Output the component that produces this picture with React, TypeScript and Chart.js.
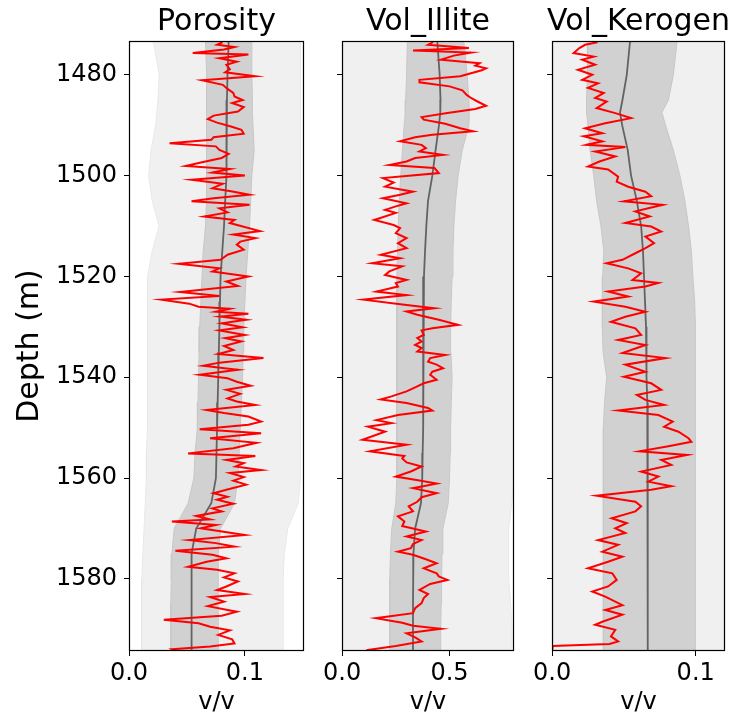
import React, { useEffect, useRef } from 'react';
import { Chart, registerables } from 'chart.js';

Chart.register(...registerables);

// ---------- data ----------
const TITLES = ['Porosity', 'Vol_Illite', 'Vol_Kerogen'];
const Y_TITLE = 'Depth (m)';
const X_TITLE = 'v/v';
const DEPTH_MIN = 1473.3;
const DEPTH_MAX = 1594.3;
const DEPTH_TICKS = [1480, 1500, 1520, 1540, 1560, 1580];
const POROSITY_TICKS = [0, 0.1];
const ILLITE_TICKS = [0, 0.5];
const KEROGEN_TICKS = [0, 0.1];
const X_MAX = [0.151, 0.8, 0.1204];

// uncertainty band knots (depth)
const BAND_DEPTH = [1473.3, 1480, 1485, 1487.5, 1490, 1495, 1500, 1505, 1510, 1515, 1520, 1525, 1530, 1535, 1540, 1545, 1550, 1555, 1560, 1565, 1570, 1575, 1580, 1585, 1590, 1594.3];

const POR_OUTER_LO = [0.021, 0.026, 0.025, 0.024, 0.023, 0.019, 0.017, 0.02, 0.026, 0.02, 0.016, 0.016, 0.016, 0.016, 0.016, 0.016, 0.016, 0.015, 0.015, 0.014, 0.013, 0.012, 0.011, 0.011, 0.011, 0.011];
const POR_OUTER_HI = [0.148, 0.148, 0.148, 0.148, 0.148, 0.148, 0.148, 0.148, 0.148, 0.148, 0.148, 0.148, 0.148, 0.148, 0.148, 0.148, 0.148, 0.148, 0.148, 0.146, 0.137, 0.134, 0.133, 0.133, 0.133, 0.133];
const POR_INNER_LO = [0.066, 0.067, 0.067, 0.067, 0.067, 0.067, 0.067, 0.0665, 0.066, 0.064, 0.063, 0.062, 0.061, 0.0605, 0.06, 0.0595, 0.059, 0.057, 0.056, 0.051, 0.039, 0.037, 0.0365, 0.036, 0.036, 0.036];
const POR_INNER_HI = [0.106, 0.106, 0.1065, 0.1065, 0.107, 0.108, 0.106, 0.105, 0.104, 0.1025, 0.101, 0.1, 0.099, 0.0985, 0.098, 0.097, 0.096, 0.095, 0.094, 0.091, 0.079, 0.077, 0.077, 0.077, 0.077, 0.077];
const POR_MEDIAN = [0.086, 0.085, 0.0845, 0.0845, 0.084, 0.084, 0.084, 0.083, 0.082, 0.0805, 0.079, 0.0785, 0.078, 0.0775, 0.077, 0.0765, 0.076, 0.0755, 0.075, 0.071, 0.058, 0.054, 0.054, 0.054, 0.054, 0.054];

const ILL_OUTER_LO = [0.003, 0.003, 0.003, 0.003, 0.003, 0.003, 0.003, 0.003, 0.003, 0.003, 0.003, 0.003, 0.003, 0.003, 0.003, 0.003, 0.003, 0.003, 0.003, 0.003, 0.003, 0.003, 0.003, 0.003, 0.003, 0.003];
const ILL_OUTER_HI = [0.8, 0.8, 0.8, 0.8, 0.8, 0.8, 0.8, 0.8, 0.8, 0.8, 0.8, 0.8, 0.8, 0.8, 0.8, 0.8, 0.8, 0.8, 0.8, 0.79, 0.775, 0.775, 0.775, 0.785, 0.79, 0.79];
const ILL_INNER_LO = [0.304, 0.3, 0.296, 0.294, 0.289, 0.281, 0.273, 0.266, 0.261, 0.258, 0.255, 0.255, 0.255, 0.255, 0.255, 0.255, 0.255, 0.255, 0.253, 0.25, 0.231, 0.225, 0.222, 0.222, 0.222, 0.222];
const ILL_INNER_HI = [0.566, 0.582, 0.59, 0.592, 0.59, 0.559, 0.54, 0.528, 0.52, 0.516, 0.512, 0.508, 0.505, 0.506, 0.512, 0.508, 0.505, 0.503, 0.5, 0.494, 0.469, 0.465, 0.463, 0.461, 0.459, 0.458];
const ILL_MEDIAN = [0.443, 0.454, 0.458, 0.457, 0.451, 0.435, 0.42, 0.4, 0.392, 0.386, 0.381, 0.379, 0.377, 0.377, 0.377, 0.377, 0.377, 0.375, 0.373, 0.367, 0.34, 0.332, 0.331, 0.33, 0.33, 0.33];

const KER_OUTER_LO = [0.001, 0.001, 0.001, 0.001, 0.001, 0.001, 0.001, 0.001, 0.001, 0.001, 0.001, 0.001, 0.001, 0.001, 0.001, 0.001, 0.001, 0.001, 0.001, 0.001, 0.001, 0.001, 0.001, 0.001, 0.001, 0.001];
const KER_OUTER_HI = [0.1204, 0.1204, 0.1204, 0.1204, 0.1204, 0.1204, 0.1204, 0.1204, 0.1204, 0.1204, 0.1204, 0.1204, 0.1204, 0.1204, 0.1204, 0.1204, 0.1204, 0.1204, 0.1204, 0.1204, 0.1204, 0.1204, 0.1204, 0.1204, 0.1204, 0.1204];
const KER_INNER_LO = [0.025, 0.0246, 0.024, 0.024, 0.025, 0.0265, 0.029, 0.031, 0.034, 0.036, 0.0352, 0.035, 0.035, 0.0355, 0.038, 0.0365, 0.0357, 0.0357, 0.0357, 0.0357, 0.0357, 0.0357, 0.0357, 0.0357, 0.0357, 0.0357];
const KER_INNER_HI = [0.087, 0.0845, 0.081, 0.0765, 0.079, 0.0845, 0.089, 0.0925, 0.095, 0.097, 0.098, 0.0993, 0.0998, 0.0998, 0.0998, 0.0998, 0.0998, 0.0998, 0.0998, 0.0998, 0.0998, 0.0998, 0.0998, 0.0998, 0.0998, 0.0998];
const KER_MEDIAN = [0.0543, 0.052, 0.049, 0.0473, 0.0488, 0.0527, 0.055, 0.059, 0.062, 0.0633, 0.064, 0.0647, 0.0654, 0.0656, 0.0659, 0.0663, 0.0667, 0.0666, 0.0666, 0.0666, 0.0666, 0.0666, 0.0666, 0.0666, 0.0666, 0.0666];

// measured logs
const POROSITY_DEPTH = [1473.3, 1473.6, 1474.05, 1474.5, 1475.0, 1475.7, 1476.0, 1476.7, 1477.4, 1478.0, 1478.9, 1479.5, 1480.3, 1481.1, 1482.0, 1482.8, 1483.6, 1484.3, 1485.0, 1485.6, 1486.4, 1487.3, 1488.1, 1488.8, 1489.5, 1490.25, 1490.9, 1491.7, 1492.4, 1492.9, 1493.6, 1494.2, 1494.9, 1495.7, 1496.5, 1497.4, 1498.1, 1498.7, 1499.4, 1500.0, 1500.8, 1501.6, 1502.5, 1503.1, 1503.8, 1504.5, 1505.1, 1505.8, 1506.5, 1507.3, 1508.1, 1508.8, 1509.4, 1511.0, 1511.7, 1512.4, 1513.1, 1513.7, 1514.7, 1515.7, 1516.7, 1517.5, 1518.4, 1519.0, 1520.0, 1521.0, 1521.9, 1523.1, 1523.9, 1524.6, 1525.4, 1526.0, 1526.4, 1527.0, 1527.4, 1527.95, 1528.6, 1529.3, 1530.1, 1530.7, 1531.6, 1532.25, 1532.9, 1533.8, 1534.6, 1535.4, 1536.2, 1537.1, 1537.7, 1538.5, 1539.5, 1540.2, 1540.9, 1541.7, 1542.5, 1543.3, 1544.2, 1544.8, 1545.5, 1546.5, 1547.1, 1547.8, 1548.8, 1549.4, 1550.3, 1551.1, 1552.1, 1553.0, 1554.1, 1555.1, 1555.6, 1556.4, 1557.05, 1557.7, 1558.4, 1559.0, 1559.8, 1560.5, 1561.3, 1562.3, 1563.0, 1563.7, 1564.3, 1565.1, 1566.0, 1566.6, 1567.5, 1568.2, 1568.6, 1569.3, 1569.95, 1571.3, 1572.3, 1572.9, 1573.6, 1574.4, 1575.2, 1575.9, 1576.6, 1577.6, 1578.2, 1578.9, 1579.7, 1580.5, 1581.5, 1582.2, 1583.0, 1583.6, 1584.5, 1585.4, 1586.5, 1587.3, 1588.1, 1588.8, 1589.5, 1590.2, 1591.1, 1592.0, 1592.8, 1593.4, 1593.95, 1594.3];
const POROSITY = [0.08, 0.08, 0.076, 0.091, 0.082, 0.055, 0.103, 0.078, 0.093, 0.084, 0.087, 0.083, 0.109, 0.063, 0.081, 0.085, 0.09, 0.091, 0.098, 0.089, 0.099, 0.094, 0.073, 0.068, 0.076, 0.088, 0.097, 0.099, 0.073, 0.071, 0.035, 0.075, 0.078, 0.086, 0.08, 0.062, 0.049, 0.087, 0.072, 0.1, 0.054, 0.081, 0.072, 0.088, 0.104, 0.073, 0.054, 0.104, 0.078, 0.085, 0.065, 0.091, 0.087, 0.113, 0.09, 0.109, 0.096, 0.093, 0.099, 0.085, 0.079, 0.043, 0.078, 0.072, 0.103, 0.084, 0.094, 0.044, 0.078, 0.028, 0.052, 0.06, 0.087, 0.075, 0.103, 0.079, 0.101, 0.08, 0.098, 0.078, 0.1, 0.083, 0.097, 0.082, 0.09, 0.077, 0.116, 0.078, 0.064, 0.094, 0.061, 0.085, 0.093, 0.105, 0.084, 0.096, 0.085, 0.093, 0.109, 0.067, 0.082, 0.103, 0.114, 0.103, 0.061, 0.114, 0.07, 0.11, 0.09, 0.051, 0.109, 0.084, 0.099, 0.092, 0.114, 0.087, 0.099, 0.09, 0.101, 0.084, 0.073, 0.085, 0.076, 0.09, 0.072, 0.08, 0.058, 0.07, 0.037, 0.075, 0.062, 0.1, 0.052, 0.075, 0.091, 0.04, 0.072, 0.084, 0.067, 0.051, 0.076, 0.091, 0.082, 0.094, 0.084, 0.076, 0.1, 0.07, 0.082, 0.068, 0.093, 0.08, 0.03, 0.06, 0.07, 0.087, 0.077, 0.089, 0.091, 0.07, 0.037, 0.04];

const ILLITE_DEPTH = [1473.3, 1473.6, 1474.05, 1474.7, 1475.2, 1475.6, 1476.2, 1477.0, 1477.7, 1478.2, 1478.7, 1479.1, 1479.7, 1480.3, 1481.0, 1481.5, 1482.3, 1483.1, 1484.0, 1484.6, 1485.3, 1486.15, 1486.8, 1487.6, 1488.4, 1488.9, 1489.7, 1490.6, 1491.2, 1491.9, 1492.4, 1493.2, 1493.9, 1494.55, 1495.2, 1495.9, 1496.5, 1497.2, 1497.9, 1498.5, 1499.5, 1500.5, 1501.4, 1502.2, 1503.2, 1503.8, 1504.5, 1505.5, 1506.1, 1506.8, 1507.4, 1508.8, 1509.8, 1510.4, 1511.4, 1512.4, 1513.4, 1514.4, 1515.7, 1516.4, 1517.4, 1518.0, 1519.0, 1519.7, 1520.7, 1521.3, 1522.0, 1523.0, 1523.7, 1524.6, 1525.6, 1526.3, 1526.96, 1527.6, 1528.6, 1529.6, 1530.3, 1530.7, 1531.6, 1532.2, 1532.9, 1533.6, 1534.2, 1534.9, 1535.6, 1536.2, 1536.9, 1537.5, 1538.2, 1538.9, 1539.5, 1540.5, 1541.2, 1541.8, 1542.8, 1543.8, 1544.4, 1545.1, 1546.1, 1546.6, 1547.5, 1548.5, 1549.1, 1549.8, 1550.8, 1551.4, 1552.4, 1553.4, 1554.7, 1555.6, 1556.1, 1556.9, 1557.7, 1558.7, 1559.7, 1560.5, 1561.1, 1562.0, 1563.0, 1563.8, 1564.7, 1565.6, 1566.6, 1567.6, 1568.6, 1569.5, 1570.6, 1571.6, 1572.3, 1573.1, 1573.9, 1574.6, 1575.2, 1576.1, 1576.9, 1577.9, 1578.9, 1579.5, 1580.2, 1581.0, 1582.2, 1583.0, 1583.8, 1584.8, 1585.8, 1586.8, 1587.8, 1588.7, 1589.3, 1589.9, 1590.8, 1591.6, 1592.4, 1593.3, 1594.1, 1594.3];
const ILLITE = [0.42, 0.42, 0.4, 0.59, 0.33, 0.6, 0.52, 0.46, 0.64, 0.62, 0.67, 0.65, 0.6, 0.55, 0.36, 0.36, 0.5, 0.56, 0.58, 0.6, 0.63, 0.67, 0.62, 0.49, 0.37, 0.38, 0.48, 0.55, 0.61, 0.42, 0.34, 0.27, 0.37, 0.39, 0.36, 0.47, 0.34, 0.3, 0.22, 0.43, 0.45, 0.19, 0.24, 0.2, 0.33, 0.27, 0.19, 0.3, 0.25, 0.2, 0.25, 0.15, 0.24, 0.27, 0.25, 0.3, 0.26, 0.3, 0.18, 0.27, 0.14, 0.28, 0.22, 0.2, 0.3, 0.25, 0.26, 0.16, 0.3, 0.1, 0.29, 0.43, 0.3, 0.35, 0.45, 0.54, 0.42, 0.37, 0.38, 0.35, 0.37, 0.34, 0.37, 0.35, 0.48, 0.41, 0.4, 0.44, 0.47, 0.42, 0.41, 0.44, 0.38, 0.35, 0.3, 0.23, 0.18, 0.3, 0.4, 0.42, 0.26, 0.16, 0.23, 0.12, 0.2, 0.16, 0.095, 0.3, 0.13, 0.29, 0.28, 0.3, 0.37, 0.32, 0.25, 0.36, 0.44, 0.33, 0.44, 0.37, 0.35, 0.31, 0.33, 0.26, 0.29, 0.28, 0.39, 0.3, 0.37, 0.33, 0.32, 0.26, 0.33, 0.39, 0.44, 0.38, 0.44, 0.45, 0.49, 0.41, 0.36, 0.4, 0.38, 0.37, 0.34, 0.33, 0.157, 0.28, 0.33, 0.46, 0.3, 0.34, 0.37, 0.25, 0.12, 0.11];

const KEROGEN_DEPTH = [1473.3, 1473.6, 1474.05, 1474.7, 1475.7, 1476.4, 1477.0, 1478.0, 1479.0, 1480.0, 1481.0, 1481.7, 1482.6, 1483.6, 1484.6, 1485.3, 1486.6, 1487.6, 1488.6, 1489.6, 1490.6, 1491.6, 1492.2, 1493.2, 1493.9, 1494.35, 1495.2, 1496.2, 1497.2, 1498.2, 1498.8, 1500.2, 1501.2, 1502.2, 1503.2, 1504.1, 1505.1, 1505.8, 1507.1, 1508.1, 1509.4, 1510.1, 1511.1, 1512.1, 1513.4, 1514.4, 1515.4, 1516.7, 1517.4, 1518.4, 1519.4, 1520.7, 1521.3, 1522.0, 1523.0, 1524.0, 1525.0, 1526.0, 1527.0, 1528.0, 1529.0, 1530.3, 1531.6, 1532.6, 1533.6, 1535.2, 1536.2, 1537.5, 1538.9, 1539.9, 1541.2, 1542.5, 1543.5, 1544.5, 1545.5, 1546.6, 1547.5, 1548.8, 1549.8, 1550.8, 1552.1, 1552.8, 1553.7, 1554.7, 1555.4, 1556.4, 1557.4, 1558.7, 1559.7, 1560.7, 1561.6, 1562.3, 1563.5, 1564.7, 1565.6, 1566.6, 1567.96, 1568.95, 1569.95, 1570.9, 1572.3, 1573.25, 1574.6, 1575.6, 1576.6, 1577.9, 1578.9, 1580.2, 1581.5, 1582.5, 1583.5, 1585.2, 1586.15, 1587.1, 1588.5, 1589.1, 1590.1, 1591.4, 1592.4, 1592.9, 1593.3, 1594.3];
const KEROGEN = [0.031, 0.031, 0.023, 0.019, 0.015, 0.029, 0.021, 0.03, 0.018, 0.028, 0.021, 0.032, 0.025, 0.036, 0.03, 0.038, 0.031, 0.044, 0.055, 0.037, 0.023, 0.035, 0.022, 0.035, 0.024, 0.051, 0.03, 0.044, 0.033, 0.025, 0.039, 0.046, 0.045, 0.053, 0.065, 0.069, 0.05, 0.077, 0.058, 0.068, 0.051, 0.069, 0.076, 0.065, 0.071, 0.065, 0.058, 0.049, 0.038, 0.053, 0.062, 0.056, 0.074, 0.065, 0.039, 0.053, 0.029, 0.051, 0.065, 0.051, 0.041, 0.058, 0.062, 0.046, 0.065, 0.049, 0.079, 0.051, 0.065, 0.05, 0.069, 0.076, 0.059, 0.065, 0.078, 0.046, 0.074, 0.084, 0.078, 0.088, 0.095, 0.097, 0.081, 0.061, 0.094, 0.076, 0.083, 0.062, 0.074, 0.067, 0.083, 0.069, 0.031, 0.058, 0.062, 0.058, 0.0415, 0.052, 0.044, 0.051, 0.032, 0.046, 0.035, 0.049, 0.039, 0.025, 0.042, 0.045, 0.039, 0.028, 0.037, 0.049, 0.037, 0.049, 0.035, 0.03, 0.044, 0.041, 0.046, 0.04, 0.0005, 0.0];

// ---------- rendering ----------
const FONT = "'DejaVu Sans', 'Liberation Sans', sans-serif";
const H = 717;
const TICK_SIZE = 24;
const TITLE_SIZE = 30;

type Spec = {
  title: string;
  left: number;
  width: number;
  areaLeft: number;
  padRight: number;
  xMax: number;
  xTicks: number[];
  showDepthLabels: boolean;
  depth: number[];
  values: number[];
  outerLo: number[];
  outerHi: number[];
  innerLo: number[];
  innerHi: number[];
  median: number[];
};

const SPECS: Spec[] = [
  { title: TITLES[0], left: 0, width: 320, areaLeft: 129, padRight: 16, xMax: X_MAX[0], xTicks: POROSITY_TICKS, showDepthLabels: true,
    depth: POROSITY_DEPTH, values: POROSITY, outerLo: POR_OUTER_LO, outerHi: POR_OUTER_HI, innerLo: POR_INNER_LO, innerHi: POR_INNER_HI, median: POR_MEDIAN },
  { title: TITLES[1], left: 320, width: 210, areaLeft: 21, padRight: 16, xMax: X_MAX[1], xTicks: ILLITE_TICKS, showDepthLabels: false,
    depth: ILLITE_DEPTH, values: ILLITE, outerLo: ILL_OUTER_LO, outerHi: ILL_OUTER_HI, innerLo: ILL_INNER_LO, innerHi: ILL_INNER_HI, median: ILL_MEDIAN },
  { title: TITLES[2], left: 530, width: 200, areaLeft: 22, padRight: 5, xMax: X_MAX[2], xTicks: KEROGEN_TICKS, showDepthLabels: false,
    depth: KEROGEN_DEPTH, values: KEROGEN, outerLo: KER_OUTER_LO, outerHi: KER_OUTER_HI, innerLo: KER_INNER_LO, innerHi: KER_INNER_HI, median: KER_MEDIAN },
];

function shape(lo: number[], hi: number[]) {
  const left = BAND_DEPTH.map((d, i) => ({ x: lo[i], y: d }));
  const right = BAND_DEPTH.map((d, i) => ({ x: hi[i], y: d })).reverse();
  return [...left, ...right];
}

function Panel({ spec }: { spec: Spec }) {
  const ref = useRef<HTMLCanvasElement>(null);
  useEffect(() => {
    if (!ref.current) return;
    const titlePlugin = {
      id: 'panelTitle',
      afterDraw(chart: any) {
        const { ctx, chartArea } = chart;
        ctx.save();
        ctx.font = `${TITLE_SIZE}px ${FONT}`;
        ctx.fillStyle = '#000';
        ctx.textAlign = 'center';
        ctx.textBaseline = 'alphabetic';
        ctx.fillText(spec.title, (chartArea.left + chartArea.right) / 2, 29.5);
        ctx.restore();
      },
    };
    const framePlugin = {
      id: 'frame',
      afterDatasetsDraw(chart: any) {
        const { ctx, chartArea } = chart;
        ctx.save();
        ctx.strokeStyle = '#000';
        ctx.lineWidth = 1.2;
        ctx.strokeRect(Math.round(chartArea.left) + 0.5, Math.round(chartArea.top) + 0.5,
          Math.round(chartArea.right - chartArea.left) - 1, Math.round(chartArea.bottom - chartArea.top) - 1);
        ctx.restore();
      },
    };
    const chart = new Chart(ref.current, {
      type: 'line',
      data: {
        datasets: [
          { data: spec.depth.map((d, i) => ({ x: spec.values[i], y: d })), borderColor: '#ff0000', borderWidth: 2, pointRadius: 0, fill: false, tension: 0, clip: 0 },
          { data: BAND_DEPTH.map((d, i) => ({ x: spec.median[i], y: d })), borderColor: 'rgba(80,80,80,0.85)', borderWidth: 1.8, pointRadius: 0, fill: false, tension: 0, clip: 0 },
          { data: shape(spec.innerLo, spec.innerHi), borderColor: '#c8c8c8', backgroundColor: '#d1d1d1', borderWidth: 1, pointRadius: 0, fill: 'shape', tension: 0, clip: 0 },
          { data: shape(spec.outerLo, spec.outerHi), borderColor: '#e8e8e8', backgroundColor: '#f0f0f0', borderWidth: 1, pointRadius: 0, fill: 'shape', tension: 0, clip: 0 },
        ] as any,
      },
      options: {
        animation: false,
        responsive: false,
        events: [],
        layout: { padding: { left: 0, right: spec.padRight, top: 41, bottom: 0 } },
        plugins: { legend: { display: false }, tooltip: { enabled: false } },
        scales: {
          x: {
            type: 'linear',
            min: 0,
            max: spec.xMax,
            afterBuildTicks: (s: any) => { s.ticks = spec.xTicks.map((v) => ({ value: v })); },
            afterFit: (s: any) => { s.height = 66; },
            grid: { display: true, drawOnChartArea: false, drawTicks: true, tickLength: 5, color: '#000', tickColor: '#000', lineWidth: 1 },
            border: { display: false },
            ticks: { color: '#000', font: { family: FONT, size: TICK_SIZE }, padding: 3, maxRotation: 0, autoSkip: false, callback: (v: any) => Number(v).toFixed(1) },
            title: { display: true, text: X_TITLE, color: '#000', font: { family: FONT, size: TICK_SIZE, lineHeight: 1 }, padding: { top: 0, bottom: 2.5 } },
          },
          y: {
            type: 'linear',
            reverse: true,
            min: DEPTH_MIN,
            max: DEPTH_MAX,
            afterBuildTicks: (s: any) => { s.ticks = DEPTH_TICKS.map((v) => ({ value: v })); },
            afterFit: (s: any) => { s.width = spec.areaLeft; },
            grid: { display: true, drawOnChartArea: false, drawTicks: true, tickLength: 5, color: '#000', tickColor: '#000', lineWidth: 1 },
            border: { display: false },
            ticks: { color: '#000', font: { family: FONT, size: TICK_SIZE }, padding: 7, autoSkip: false, callback: (v: any) => (spec.showDepthLabels ? String(v) : '') },
            title: { display: spec.showDepthLabels, text: Y_TITLE, color: '#000', font: { family: FONT, size: TITLE_SIZE, lineHeight: 1 }, padding: { top: 15, bottom: 0 } },
          },
        },
      } as any,
      plugins: [titlePlugin, framePlugin],
    });
    return () => chart.destroy();
  }, [spec]);
  return (
    <canvas
      ref={ref}
      width={spec.width}
      height={H}
      style={{ position: 'absolute', left: spec.left, top: 0, width: spec.width, height: H }}
    />
  );
}

export default function App() {
  return (
    <div style={{ position: 'absolute', left: 0, top: 0, width: 730, height: H, background: '#fff' }}>
      {SPECS.map((s) => (
        <Panel key={s.title} spec={s} />
      ))}
    </div>
  );
}
